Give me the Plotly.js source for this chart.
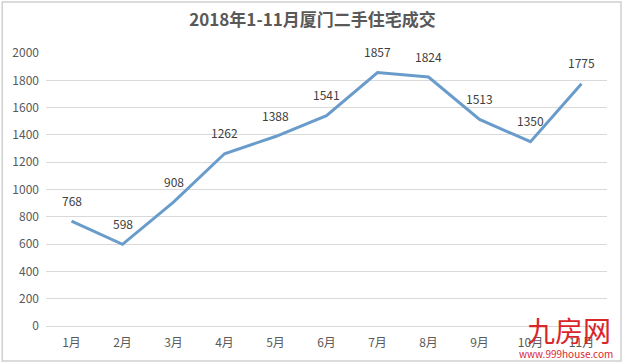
<!DOCTYPE html>
<html><head><meta charset="utf-8">
<script src="https://cdn.plot.ly/plotly-3.0.1.min.js"></script>
<style>html,body{margin:0;padding:0;background:#fff;}#c{width:625px;height:363px;}</style>
</head><body><div id="c"></div>
<script>
const months = ['1月','2月','3月','4月','5月','6月','7月','8月','9月','10月','11月'];
const deals = [768, 598, 908, 1262, 1388, 1541, 1857, 1824, 1513, 1350, 1775];
const yTicks = [0,200,400,600,800,1000,1200,1400,1600,1800,2000];

const font = '"Microsoft YaHei","Noto Sans CJK SC","Noto Sans",sans-serif';
const trace = {
  x: months, y: deals, type: 'scatter', mode: 'lines',
  line: {color: '#6a9ccb', width: 3},
  cliponaxis: false, hoverinfo: 'none'
};
const labelAnns = months.map((m, i) => ({
  x: m, y: deals[i], xref: 'x', yref: 'y', text: String(deals[i]), showarrow: false,
  yanchor: 'middle', xanchor: 'center', yshift: 21,
  font: {family: font, size: 12, color: '#404040'}
}));
const layout = {
  width: 625, height: 363,
  margin: {l: 46, r: 18, t: 53, b: 37},
  paper_bgcolor: '#fff', plot_bgcolor: '#fff',
  showlegend: false,
  title: {text: '<b>2018年1-11月厦门二手住宅成交</b>', x: 0.5, xanchor: 'center', y: 0.945, yanchor: 'middle',
          font: {family: font, size: 17, color: '#595959'}},
  xaxis: {type: 'category', range: [-0.5, months.length - 0.5], showgrid: false, showline: false, zeroline: false, ticks: '',
          ticklabelstandoff: 8,
          tickfont: {family: font, size: 12, color: '#595959'}, fixedrange: true},
  yaxis: {range: [0, 2000], tickvals: yTicks, showgrid: true, gridcolor: '#d9d9d9', gridwidth: 1,
          zeroline: true, zerolinecolor: '#d9d9d9', showline: false, ticks: '',
          ticklabelstandoff: 6,
          tickfont: {family: font, size: 12, color: '#595959'}, fixedrange: true},
  shapes: [{type: 'rect', xref: 'paper', yref: 'paper', x0: -0.078, x1: 1.025, y0: -0.128, y1: 1.187,
            line: {color: '#d0d0d0', width: 1.5}}],
  annotations: labelAnns.concat([
    {xref: 'paper', yref: 'paper', x: 1.01, y: -0.095, xanchor: 'right', yanchor: 'bottom', showarrow: false,
     text: '九房网', font: {family: font, size: 28, color: '#d9262b'}},
    {xref: 'paper', yref: 'paper', x: 1.015, y: -0.135, xanchor: 'right', yanchor: 'bottom', showarrow: false,
     text: 'www.999house.com', font: {family: font, size: 10, color: '#d9262b'}}
  ])
};
Plotly.newPlot('c', [trace], layout, {displayModeBar: false, staticPlot: true});
</script></body></html>
